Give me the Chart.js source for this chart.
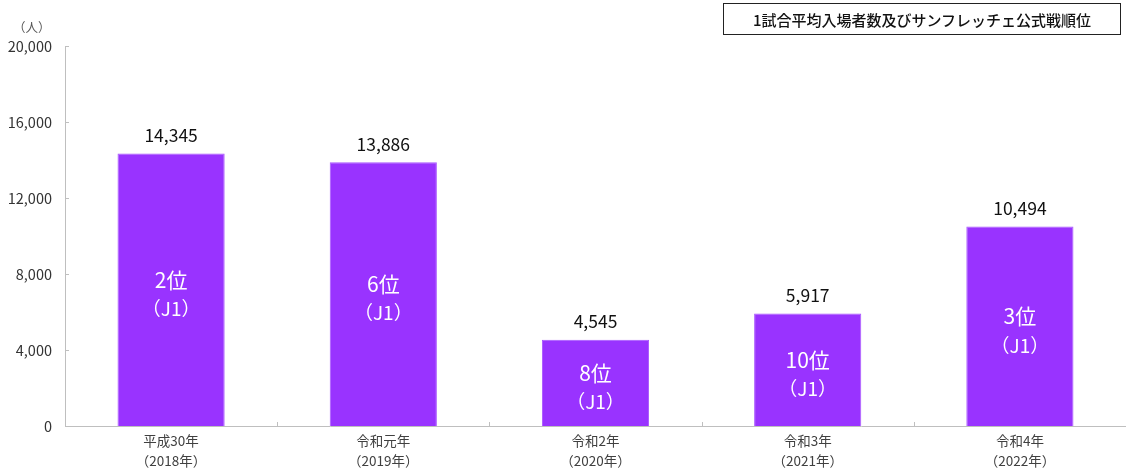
<!DOCTYPE html>
<html lang="ja">
<head>
<meta charset="utf-8">
<script src="https://cdn.jsdelivr.net/npm/chart.js@4"></script>
<style>
  html, body { margin: 0; padding: 0; background: #fff; }
  #wrap { position: relative; width: 1126px; height: 470px; font-family: "Noto Sans CJK JP", "Noto Sans", sans-serif; }
  #title {
    position: absolute; left: 723px; top: 3px; width: 396px; height: 30px;
    border: 1.5px solid #222; box-sizing: content-box;
    font-size: 15px; font-weight: 500; color: #111;
    display: flex; align-items: center; justify-content: center;
  }
  #unit { position: absolute; left: 13px; top: 17px; font-size: 12.5px; color: #595959; }
</style>
</head>
<body>
<div id="wrap">
  <canvas id="chart" width="1126" height="470"></canvas>
  <div id="unit">（人）</div>
  <div id="title">1試合平均入場者数及びサンフレッチェ公式戦順位</div>
</div>
<script>
// Data
const years = [
    ['平成30年', '（2018年）'],
    ['令和元年', '（2019年）'],
    ['令和2年', '（2020年）'],
    ['令和3年', '（2021年）'],
    ['令和4年', '（2022年）']
];
const attendance = [14345, 13886, 4545, 5917, 10494];
const ranks = ['2位', '6位', '8位', '10位', '3位'];
const leagues = ['（J1）', '（J1）', '（J1）', '（J1）', '（J1）'];
const yTicks = [0, 4000, 8000, 12000, 16000, 20000];

const FONT = '"Noto Sans CJK JP", "Noto Sans", sans-serif';

// Draws value labels, rank labels and the inward tick marks
const labelPlugin = {
    id: 'barLabels',
    afterDatasetsDraw(chart) {
        const ctx = chart.ctx;
        const meta = chart.getDatasetMeta(0);
        const xs = chart.scales.x;
        const ys = chart.scales.y;

        ctx.save();
        ctx.textAlign = 'center';
        ctx.textBaseline = 'middle';

        meta.data.forEach((bar, i) => {
            // value above bar
            ctx.fillStyle = '#111';
            ctx.font = '17.5px ' + FONT;
            ctx.fillText(attendance[i].toLocaleString('en-US'), bar.x, bar.y - 18);

            // rank inside bar
            const mid = (bar.y + bar.base) / 2;
            ctx.fillStyle = '#fff';
            ctx.font = '21px ' + FONT;
            ctx.fillText(ranks[i], bar.x, mid - 10);
            ctx.font = '19px ' + FONT;
            ctx.fillText(leagues[i], bar.x, mid + 19);
        });

        // tick marks pointing into the plot
        ctx.strokeStyle = '#bfbfbf';
        ctx.lineWidth = 1;
        ctx.beginPath();
        for (let i = 1; i < years.length; i++) {
            const x = Math.round((xs.getPixelForTick(i - 1) + xs.getPixelForTick(i)) / 2) + 0.5;
            ctx.moveTo(x, xs.top);
            ctx.lineTo(x, xs.top - 4);
        }
        yTicks.forEach(v => {
            const y = Math.round(ys.getPixelForValue(v)) + 0.5;
            ctx.moveTo(ys.right, y);
            ctx.lineTo(ys.right + 4, y);
        });
        ctx.stroke();
        ctx.restore();
    }
};

new Chart(document.getElementById('chart'), {
    type: 'bar',
    data: {
        labels: years,
        datasets: [{
            data: attendance,
            backgroundColor: '#9933ff',
            borderColor: '#a855ff',
            borderWidth: 1,
            categoryPercentage: 1.0,
            barPercentage: 0.505
        }]
    },
    options: {
        responsive: false,
        animation: false,
        layout: { padding: { top: 46, right: 0, left: 0, bottom: 0 } },
        plugins: {
            legend: { display: false },
            tooltip: { enabled: false }
        },
        scales: {
            x: {
                grid: { display: false, drawTicks: false, tickLength: 0 },
                border: { color: '#bfbfbf', width: 1 },
                ticks: {
                    color: '#404040',
                    font: { family: FONT, size: 13.5, lineHeight: 1.48 },
                    padding: 5,
                    maxRotation: 0
                },
                afterFit(scale) { scale.height = 44; }
            },
            y: {
                min: 0,
                max: 20000,
                grid: { display: false, drawTicks: false, tickLength: 0 },
                border: { color: '#bfbfbf', width: 1 },
                afterBuildTicks(scale) {
                    scale.ticks = yTicks.map(v => ({ value: v }));
                },
                ticks: {
                    color: '#333',
                    font: { family: FONT, size: 14.5 },
                    padding: 13,
                    callback: v => v.toLocaleString('en-US')
                },
                afterFit(scale) { scale.width = 65; }
            }
        }
    },
    plugins: [labelPlugin]
});
</script>
</body>
</html>
